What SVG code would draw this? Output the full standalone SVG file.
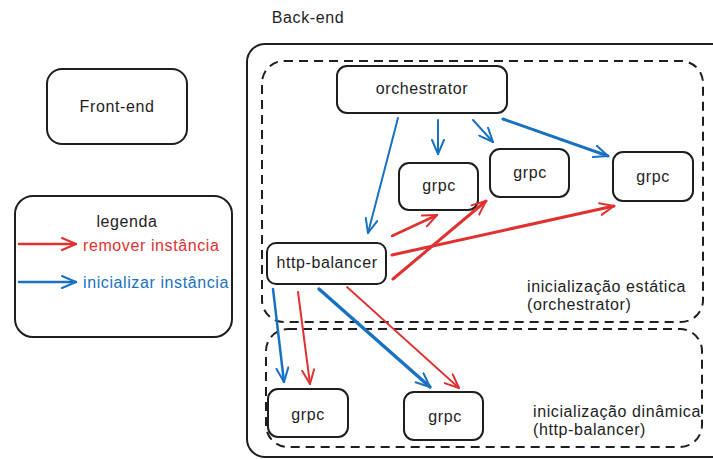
<svg xmlns="http://www.w3.org/2000/svg" width="713" height="459" viewBox="0 0 713 459">
  <style>
    .box { fill: #ffffff; stroke: #1e1e1e; stroke-width: 2; }
    .frame { fill: none; stroke: #1e1e1e; stroke-width: 2; }
    .dash { fill: none; stroke: #1e1e1e; stroke-width: 2; stroke-dasharray: 9 6; }
    .lbl { font-family: "Liberation Sans", Arial, sans-serif; font-size: 16px; fill: #1e1e1e; letter-spacing: 0.6px; }
    .mid { text-anchor: middle; }
    .red { stroke: #e03131; fill: none; stroke-linecap: round; }
    .blue { stroke: #1971c2; fill: none; stroke-linecap: round; }
  </style>
  <defs>
    <marker id="hRed" viewBox="0 0 16 14" refX="15" refY="7" markerWidth="16" markerHeight="14" markerUnits="userSpaceOnUse" orient="auto">
      <path d="M1,1 L15,7 L1,13" fill="none" stroke="#e03131" stroke-width="2" stroke-linecap="round" stroke-linejoin="round"/>
    </marker>
    <marker id="hBlue" viewBox="0 0 16 14" refX="15" refY="7" markerWidth="16" markerHeight="14" markerUnits="userSpaceOnUse" orient="auto">
      <path d="M1,1 L15,7 L1,13" fill="none" stroke="#1971c2" stroke-width="2" stroke-linecap="round" stroke-linejoin="round"/>
    </marker>
  </defs>

  <rect width="713" height="459" fill="#ffffff"/>

  <!-- Back-end container and its two zones -->
  <g id="backend">
    <text class="lbl mid" x="308" y="23">Back-end</text>
    <rect class="frame" x="247" y="44" width="490" height="413" rx="18"/>
  </g>
  <g id="zone-static">
    <rect class="dash" x="262" y="61" width="441" height="261" rx="22"/>
    <text class="lbl" x="527" y="292">inicialização estática</text>
    <text class="lbl" x="527" y="310">(orchestrator)</text>
  </g>
  <g id="zone-dynamic">
    <rect class="dash" x="266" y="329" width="436" height="118" rx="22"/>
    <text class="lbl" x="533" y="417">inicialização dinâmica</text>
    <text class="lbl" x="533" y="435">(http-balancer)</text>
  </g>

  <!-- Nodes -->
  <g id="frontend">
    <rect class="box" x="47" y="69" width="140" height="75" rx="15"/>
    <text class="lbl mid" x="117" y="112">Front-end</text>
  </g>

  <g id="legend">
    <rect class="box" x="15" y="196" width="217" height="141" rx="18"/>
    <text class="lbl mid" x="127" y="227">legenda</text>
    <line class="red" x1="19" y1="244" x2="76" y2="244" stroke-width="2.5" marker-end="url(#hRed)"/>
    <text class="lbl" x="83" y="251" fill="#e03131" style="fill:#e03131">remover instância</text>
    <line class="blue" x1="19" y1="282" x2="76" y2="282" stroke-width="2.5" marker-end="url(#hBlue)"/>
    <text class="lbl" x="83" y="288" style="fill:#1971c2">inicializar instância</text>
  </g>

  <g id="orchestrator">
    <rect class="box" x="337" y="66" width="170" height="47" rx="10"/>
    <text class="lbl mid" x="422" y="94">orchestrator</text>
  </g>

  <g id="grpc-1">
    <rect class="box" x="399" y="163" width="79" height="47" rx="10"/>
    <text class="lbl mid" x="439" y="191">grpc</text>
  </g>
  <g id="grpc-2">
    <rect class="box" x="490" y="149" width="79" height="48" rx="10"/>
    <text class="lbl mid" x="530" y="178">grpc</text>
  </g>
  <g id="grpc-3">
    <rect class="box" x="613" y="152" width="80" height="49" rx="10"/>
    <text class="lbl mid" x="653" y="182">grpc</text>
  </g>

  <g id="http-balancer">
    <rect class="box" x="267" y="243" width="119" height="41" rx="9"/>
    <text class="lbl mid" x="327" y="268">http-balancer</text>
  </g>

  <g id="grpc-4">
    <rect class="box" x="268" y="389" width="80" height="48" rx="10"/>
    <text class="lbl mid" x="308" y="420">grpc</text>
  </g>
  <g id="grpc-5">
    <rect class="box" x="404" y="392" width="79" height="48" rx="10"/>
    <text class="lbl mid" x="445" y="422">grpc</text>
  </g>

  <!-- Connectors -->
  <g id="connectors">
    <!-- orchestrator starts instances -->
    <line class="blue" x1="398" y1="118" x2="368" y2="233" stroke-width="2" marker-end="url(#hBlue)"/>
    <line class="blue" x1="438" y1="120" x2="438" y2="154" stroke-width="2" marker-end="url(#hBlue)"/>
    <line class="blue" x1="473" y1="120" x2="493" y2="142" stroke-width="2" marker-end="url(#hBlue)"/>
    <line class="blue" x1="503" y1="119" x2="608" y2="156" stroke-width="3" marker-end="url(#hBlue)"/>

    <!-- http-balancer removes static instances -->
    <line class="red" x1="392" y1="236" x2="437" y2="215" stroke-width="2.5" marker-end="url(#hRed)"/>
    <line class="red" x1="393" y1="279" x2="486" y2="201" stroke-width="3" marker-end="url(#hRed)"/>
    <line class="red" x1="392" y1="255" x2="614" y2="206" stroke-width="3" marker-end="url(#hRed)"/>

    <!-- http-balancer manages dynamic instances -->
    <line class="blue" x1="273" y1="289" x2="284" y2="382" stroke-width="2.5" marker-end="url(#hBlue)"/>
    <line class="red" x1="298" y1="292" x2="310" y2="384" stroke-width="2" marker-end="url(#hRed)"/>
    <line class="blue" x1="319" y1="289" x2="430" y2="387" stroke-width="3.5" marker-end="url(#hBlue)"/>
    <line class="red" x1="347" y1="287" x2="459" y2="388" stroke-width="1.8" marker-end="url(#hRed)"/>
  </g>
</svg>
